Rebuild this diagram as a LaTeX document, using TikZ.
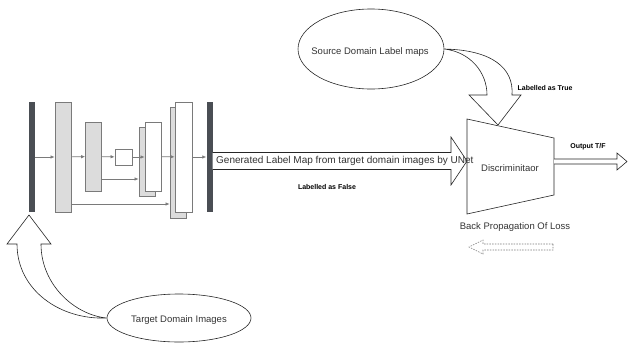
\documentclass[tikz,border=0pt]{standalone}
\usepackage{fontspec}
\setmainfont{Liberation Sans}
\usetikzlibrary{arrows.meta,shapes.geometric}
\definecolor{barcol}{HTML}{4A4E54}
\definecolor{layercol}{HTML}{DCDCDC}
\definecolor{edgecol}{HTML}{7A7A7A}
\definecolor{txtcol}{HTML}{333333}
\tikzset{
  layer/.style={draw=edgecol,fill=layercol,line width=0.8pt,inner sep=0pt,minimum width=16pt,minimum height=#1},
  wlayer/.style={layer=#1,fill=white},
  bar/.style={fill=barcol,inner sep=0pt,minimum width=6pt,minimum height=110pt},
  link/.style={draw=edgecol,line width=0.7pt,-{Latex[length=4pt,width=3.5pt]}},
  fat/.style={draw=black!85,line width=0.6pt,fill=white,line join=miter},
  lbl/.style={text=txtcol,font=\fontsize{9.5}{11}\selectfont,inner sep=0pt},
  tag/.style={text=black,font=\fontsize{7}{8}\selectfont\bfseries,inner sep=0pt},
  bubble/.style={ellipse,draw=black!85,line width=0.6pt,inner sep=0pt}
}
\begin{document}
\begin{tikzpicture}[x=1pt,y=-1pt]
  \useasboundingbox (0,0) rectangle (628,343);
  % UNet
  \node[bar] (inbar) at (32,157) {};
  \node[layer=110pt] (e1) at (63,157) {};
  \node[layer=69pt] (e2) at (93.5,156.5) {};
  \node[wlayer=16pt,minimum width=17pt] (mid) at (123.5,157) {};
  \node[layer=69pt] (d2b) at (147,161.5) {};
  \node[wlayer=69pt] (d2) at (153,156.5) {};
  \node[layer=111pt] (d1b) at (178,162.5) {};
  \node[wlayer=110pt,minimum width=17pt] (d1) at (183.5,157) {};
  \node[bar] (outbar) at (209.5,157) {};
  \coordinate (sk1) at (0,179);
  \coordinate (sk2) at (0,204);
  \draw[link] (inbar) -- (e1);
  \draw[link] (e1) -- (e2);
  \draw[link] (e2) -- (mid);
  \draw[link] (mid.east) -- (d2.west |- mid.east);
  \draw[link] (d2) -- (d1);
  \draw[link] (d1) -- (outbar);
  \draw[link] (e2.east |- sk1) -- (d2b.west |- sk1);
  \draw[link] (e1.east |- sk2) -- (d1b.west |- sk2);
  % discriminator
  \coordinate (dnw) at (467,119);
  \coordinate (dne) at (554,138);
  \coordinate (dse) at (554,195);
  \coordinate (dsw) at (467,214);
  \draw[fat] (dnw) -- (dne) -- (dse) -- (dsw) -- cycle;
  \node[lbl] (disc) at (510,168) {Discriminitaor};
  % generated map
  \draw[fat] (outbar.east |- 0,152.5) -- (451,152.5) -- (451,137) -- (467,161)
    -- (451,185) -- (451,169.5) -- (outbar.east |- 0,169.5);
  \node[lbl,font=\fontsize{10}{12}\selectfont,anchor=west] (gen) at (216,161) {Generated Label Map from target domain images by UNet};
  \node[tag] (false) at (327,187) {Labelled as False};
  % output
  \draw[fat] (dne |- 0,159) -- (617,159) -- (617,153) -- (627,161.5) -- (617,170)
    -- (617,164) -- (dne |- 0,164);
  \node[tag] (out) at (588,147) {Output T/F};
  % source maps
  \node[bubble,minimum width=146pt,minimum height=80pt] (src) at (371,49) {};
  \node[lbl] at (370,52) {Source Domain Label maps};
  \draw[fat] (src.east) .. controls (492,50) and (514,68) .. (512,95) -- (521,95)
    -- (498,125) -- (469,95) -- (487,95) .. controls (487,72) and (470,52) .. (src.east);
  \node[tag] (true) at (545,88) {Labelled as True};
  % target images
  \node[bubble,minimum width=144pt,minimum height=48pt] (tgt) at (179,318) {};
  \node[lbl] at (179,320) {Target Domain Images};
  \draw[fat] (tgt.west) .. controls (60,320) and (17,290) .. (17,244) -- (7,244)
    -- (29,215) -- (51,244) -- (41,244) .. controls (41,285) and (75,315) .. (tgt.west);
  % back propagation
  \node[lbl] (bp) at (515,227) {Back Propagation Of Loss};
  \draw[draw=edgecol,line width=0.6pt,dash pattern=on 1.5pt off 1.2pt] (553,244) -- (483,244) -- (483,240)
    -- (469,247) -- (483,254) -- (483,250) -- (553,250) -- cycle;
\end{tikzpicture}
\end{document}
